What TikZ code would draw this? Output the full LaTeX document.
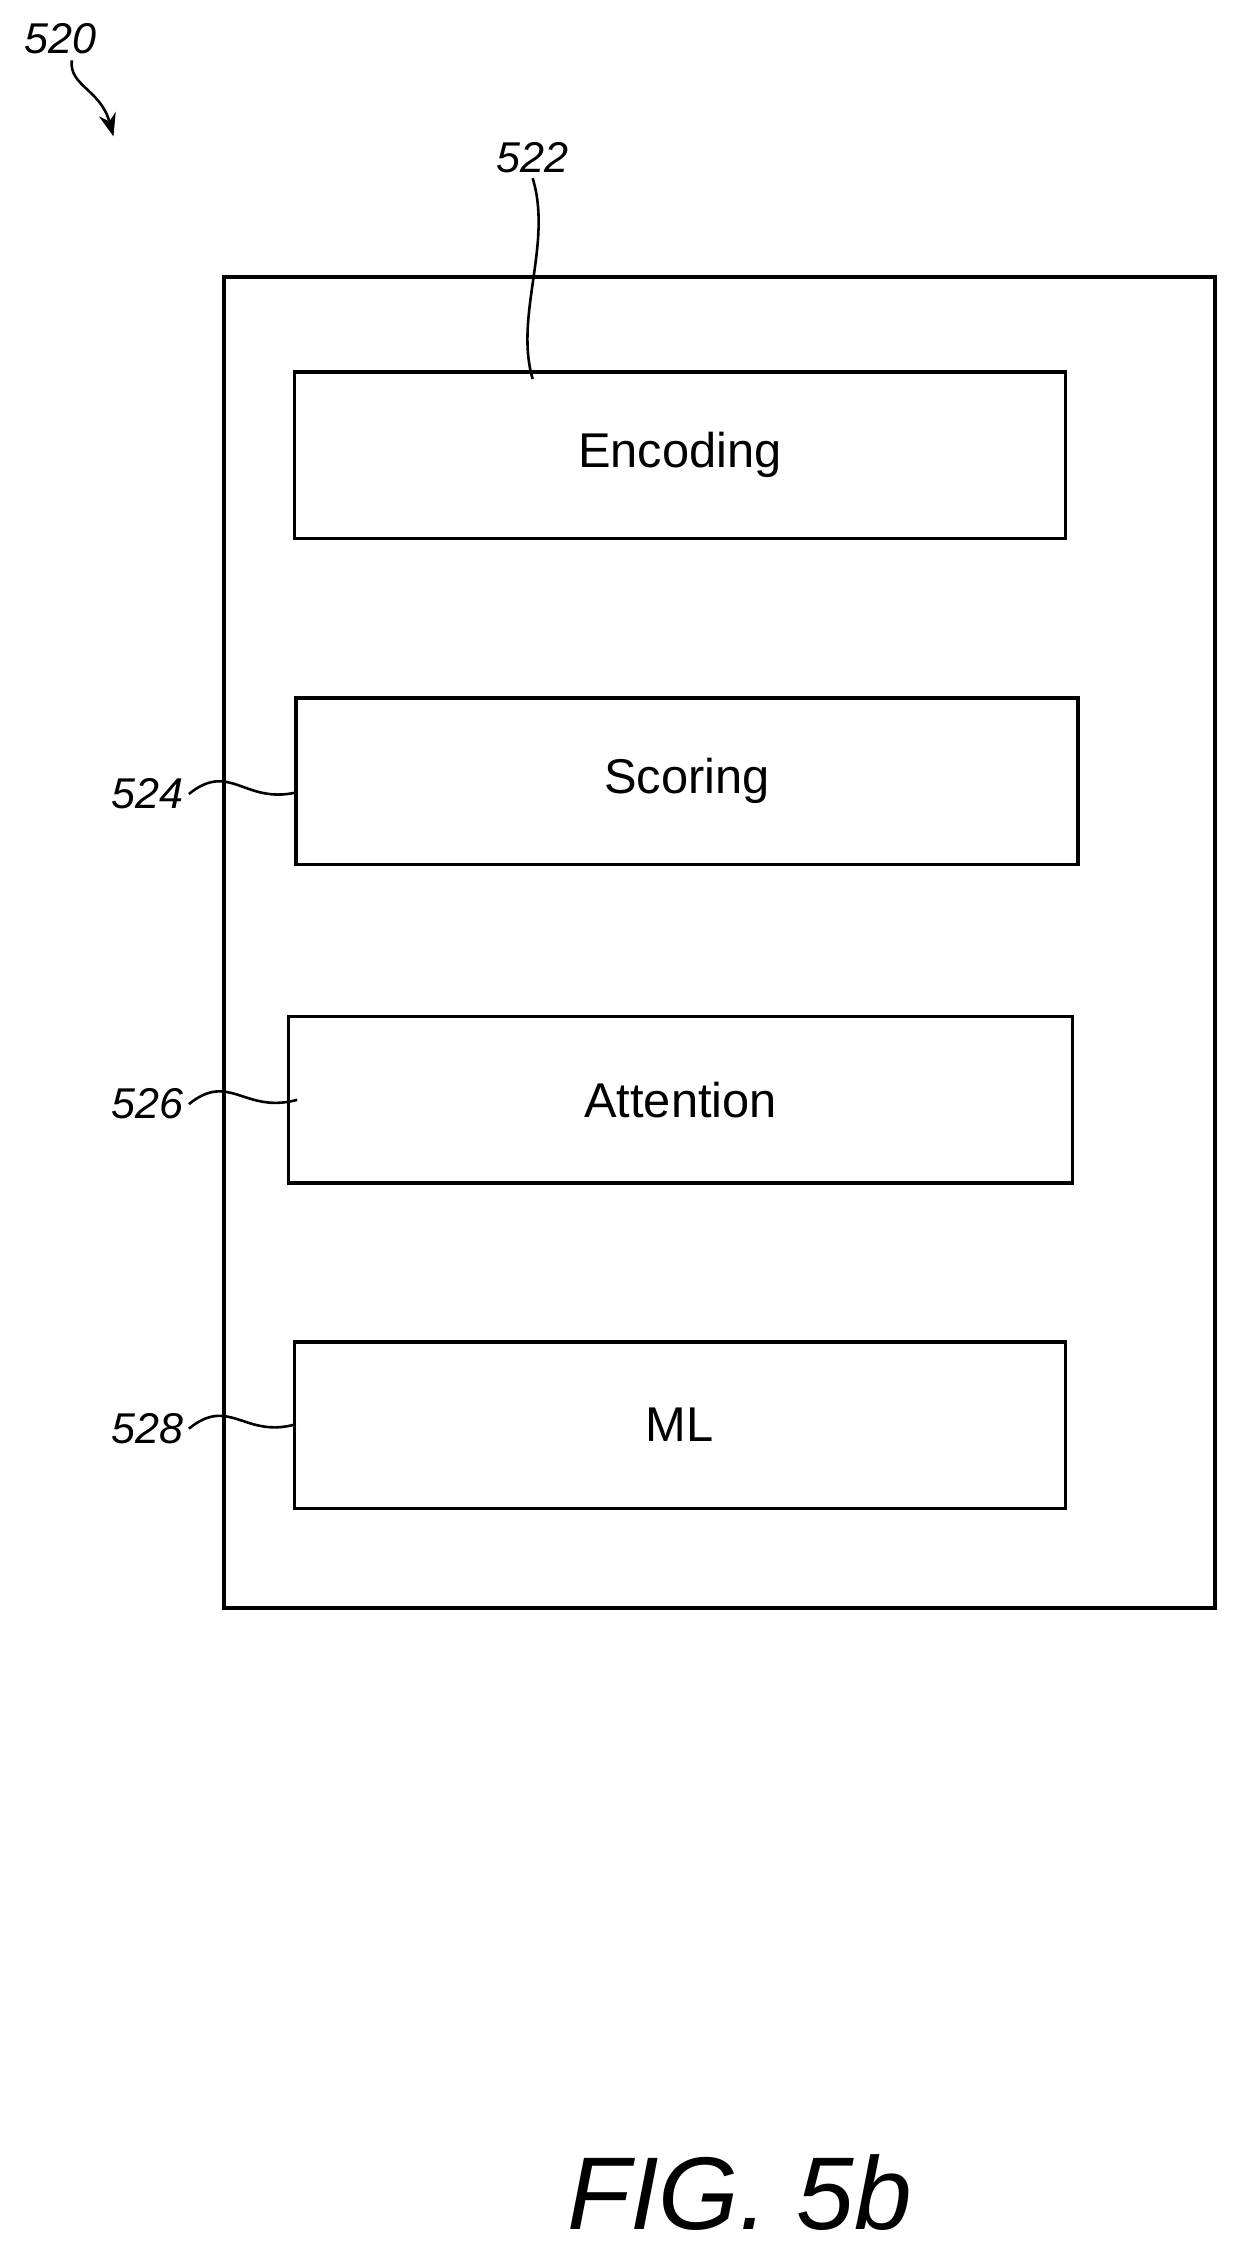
\documentclass[tikz,border=0pt]{standalone}
\usepackage{fontspec}
\setmainfont{Liberation Sans}
\usetikzlibrary{arrows.meta}
\begin{document}
\begin{tikzpicture}[x=1pt,y=-1pt,
  box/.style={draw,line width=2.5pt,minimum width=#1,minimum height=116pt,inner sep=0pt,font=\fontsize{34}{38}\selectfont},
  lbl/.style={font=\fontsize{30}{34}\selectfont\itshape},
  lead/.style={line width=1.8pt}]
\useasboundingbox (0,0) rectangle (860,1565);
\node[draw,line width=3pt,minimum width=690pt,minimum height=927pt,inner sep=0pt] (outer) at (501,656.5) {};
\node[box=537pt] (enc) at (473.5,317) {Encoding};
\node[box=545pt] (sco) at (478.5,544) {Scoring};
\node[box=546pt] (att) at (474,766) {Attention};
\node[box=537pt] (ml) at (473.5,992.5) {ML};
\node[lbl] (l520) at (42,27) {520};
\node[lbl] (l522) at (371,110) {522};
\node[lbl] (l524) at (103,553) {524};
\node[lbl] (l526) at (103,769) {526};
\node[lbl] (l528) at (103,995) {528};
\coordinate (a1) at (50,42);
\coordinate (a2) at (79,95);
\draw[lead,-{Stealth[length=16pt,width=12pt]}] (a1) .. controls (48,60) and (70,62) .. (a2);
\coordinate (e1) at (371,264);
\draw[lead] (l522.south) .. controls (385,170) and (358,220) .. (e1);
\coordinate (s1) at (206,552);
\coordinate (t1) at (207,766);
\coordinate (m1) at (206,992);
\draw[lead] (l524.east) .. controls (160,530) and (170,560) .. (s1);
\draw[lead] (l526.east) .. controls (160,746) and (170,776) .. (t1);
\draw[lead] (l528.east) .. controls (160,972) and (170,1002) .. (m1);
\node[font=\fontsize{72}{80}\selectfont\itshape] (fig) at (515,1527) {FIG. 5b};
\end{tikzpicture}
\end{document}
